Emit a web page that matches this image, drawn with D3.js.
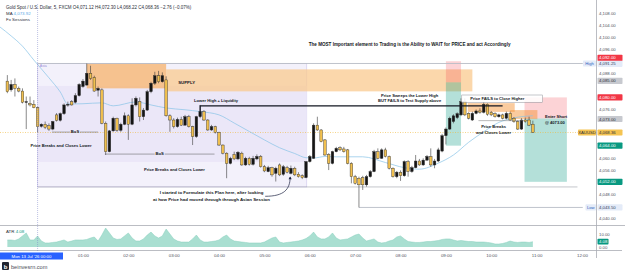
<!DOCTYPE html>
<html>
<head>
<meta charset="utf-8">
<script src="https://cdn.jsdelivr.net/npm/d3@7.9.0/dist/d3.min.js"></script>
<style>
  html, body { margin: 0; padding: 0; background: #fff; }
  svg { display: block; font-family: "Liberation Sans", Arial, sans-serif; }
</style>
</head>
<body>
<svg id="chart" width="625" height="273"></svg>
<script>
// 5 minute candles, index 0 is 00:00 (Mon 13 Jul)
const firstIndex = -8;

const opens = [
  4085.4, 4082.5, 4084.3, 4083.0, 4082.1, 4078.4, 4078.0, 4077.7, 4076.6, 4070.4,
  4071.1, 4070.6, 4069.5, 4074.2, 4072.4, 4074.6, 4077.5, 4078.6, 4078.4, 4080.6,
  4083.6, 4084.1, 4088.0, 4086.6, 4082.4, 4082.5, 4071.4, 4062.0, 4068.9, 4073.1,
  4069.1, 4071.1, 4073.9, 4071.1, 4077.5, 4078.6, 4073.6, 4075.8, 4081.9, 4084.7,
  4087.2, 4085.2, 4085.8, 4073.9, 4072.5, 4070.3, 4072.7, 4070.8, 4073.6, 4070.3,
  4067.0, 4073.6, 4075.3, 4072.5, 4069.2, 4070.3, 4068.4, 4064.2, 4061.5, 4058.1,
  4061.1, 4059.6, 4061.5, 4057.6, 4059.8, 4057.8, 4059.6, 4060.4, 4057.0, 4055.4,
  4056.7, 4054.8, 4057.6, 4054.5, 4056.7, 4054.8, 4056.5, 4054.5, 4054.0, 4053.4,
  4058.7, 4059.8, 4070.8, 4069.2, 4065.9, 4061.1, 4058.1, 4062.0, 4063.3, 4062.9,
  4062.6, 4058.1, 4053.7, 4053.2, 4053.4, 4051.0, 4053.7, 4055.4, 4062.0, 4059.8,
  4062.6, 4060.4, 4056.5, 4053.7, 4055.2, 4054.0, 4058.7, 4055.4, 4056.7, 4058.9,
  4057.6, 4059.2, 4060.4, 4057.6, 4058.9, 4062.2, 4067.3, 4069.5, 4072.0, 4073.3,
  4074.2, 4078.6, 4074.7, 4072.5, 4074.7, 4075.5, 4075.05, 4077.7, 4075.05, 4074.6,
  4073.6, 4074.2, 4073.1, 4074.7, 4073.1, 4072.0, 4069.5, 4072.5, 4072.5, 4071.12
];
const highs = [
  4087.4, 4085.8, 4086.3, 4083.6, 4083.0, 4080.3, 4080.3, 4079.1, 4076.9, 4071.4,
  4072.0, 4071.4, 4072.2, 4074.8, 4075.0, 4078.0, 4078.6, 4079.1, 4081.4, 4084.7,
  4086.1, 4091.25, 4090.5, 4087.2, 4083.6, 4083.0, 4072.0, 4069.2, 4073.6, 4073.3,
  4071.6, 4075.0, 4074.4, 4079.7, 4080.3, 4080.0, 4076.5, 4082.5, 4085.2, 4088.5,
  4088.8, 4088.3, 4087.0, 4074.4, 4073.1, 4073.3, 4073.6, 4074.2, 4074.2, 4070.6,
  4073.9, 4077.5, 4075.8, 4072.8, 4070.9, 4070.6, 4068.6, 4064.4, 4061.8, 4060.3,
  4062.0, 4062.2, 4062.0, 4060.3, 4060.3, 4060.6, 4061.1, 4060.9, 4057.6, 4057.3,
  4057.0, 4057.0, 4058.1, 4057.6, 4057.3, 4057.4, 4057.0, 4055.2, 4054.5, 4058.9,
  4060.9, 4071.4, 4073.6, 4069.5, 4066.2, 4061.5, 4062.3, 4063.6, 4063.8, 4063.6,
  4062.9, 4058.5, 4054.3, 4053.7, 4054.0, 4054.3, 4055.9, 4062.6, 4063.1, 4063.1,
  4063.3, 4060.7, 4056.8, 4055.6, 4055.8, 4059.1, 4059.2, 4057.3, 4060.9, 4059.6,
  4059.8, 4060.9, 4063.1, 4059.6, 4063.3, 4067.9, 4070.0, 4073.6, 4074.4, 4075.05,
  4079.7, 4079.7, 4075.05, 4075.3, 4076.0, 4076.4, 4078.4, 4078.0, 4075.5, 4075.05,
  4074.6, 4074.6, 4075.3, 4075.3, 4073.5, 4072.4, 4073.1, 4073.3, 4073.6, 4072.30
];
const lows = [
  4081.4, 4081.9, 4080.3, 4081.7, 4078.0, 4069.5, 4077.0, 4076.4, 4068.4, 4070.0,
  4069.5, 4068.9, 4069.1, 4072.0, 4072.0, 4074.2, 4076.9, 4077.3, 4078.0, 4080.3,
  4083.2, 4083.9, 4085.8, 4081.9, 4080.3, 4071.1, 4060.9, 4061.8, 4068.6, 4068.6,
  4068.6, 4070.8, 4065.9, 4070.8, 4077.0, 4072.0, 4072.5, 4075.5, 4081.4, 4084.1,
  4084.7, 4084.9, 4073.6, 4068.6, 4069.7, 4070.0, 4070.5, 4070.6, 4070.0, 4064.2,
  4066.6, 4073.1, 4072.2, 4068.9, 4068.9, 4068.0, 4063.9, 4061.1, 4053.2, 4057.8,
  4059.2, 4059.2, 4057.3, 4057.3, 4057.4, 4057.4, 4059.2, 4056.7, 4055.2, 4055.2,
  4053.7, 4052.1, 4053.9, 4054.0, 4054.8, 4054.5, 4053.9, 4053.4, 4052.9, 4053.2,
  4058.4, 4059.6, 4068.9, 4065.1, 4060.6, 4055.9, 4057.8, 4061.8, 4062.2, 4061.7,
  4057.8, 4051.5, 4051.1, 4043.5, 4049.3, 4050.4, 4053.4, 4055.2, 4059.5, 4059.6,
  4060.1, 4056.1, 4053.4, 4053.2, 4052.3, 4053.7, 4053.7, 4055.0, 4056.5, 4057.3,
  4057.3, 4058.9, 4057.0, 4056.5, 4058.5, 4061.8, 4064.4, 4069.2, 4071.4, 4072.8,
  4073.8, 4073.8, 4072.7, 4072.2, 4074.4, 4074.6, 4074.7, 4073.9, 4073.8, 4073.3,
  4073.3, 4072.7, 4072.7, 4072.2, 4071.6, 4069.2, 4069.2, 4071.6, 4070.5, 4068.22
];
const closes = [
  4081.9, 4084.3, 4083.0, 4082.1, 4078.4, 4078.6, 4077.5, 4076.6, 4070.3, 4071.1,
  4070.0, 4069.5, 4072.0, 4072.4, 4074.6, 4077.5, 4077.7, 4077.5, 4080.6, 4084.3,
  4085.4, 4088.0, 4086.3, 4082.1, 4083.0, 4071.4, 4062.0, 4068.9, 4073.1, 4069.1,
  4071.1, 4073.9, 4071.1, 4077.5, 4079.7, 4073.6, 4075.8, 4081.9, 4084.7, 4087.2,
  4085.2, 4087.2, 4073.9, 4072.5, 4070.3, 4072.7, 4070.8, 4073.6, 4070.3, 4067.0,
  4073.6, 4075.3, 4072.5, 4069.2, 4070.3, 4068.4, 4064.2, 4061.5, 4058.1, 4059.8,
  4059.6, 4061.8, 4057.6, 4059.8, 4057.8, 4059.8, 4060.4, 4057.0, 4055.6, 4056.7,
  4054.3, 4056.5, 4054.3, 4057.0, 4055.2, 4056.5, 4054.3, 4053.7, 4053.4, 4058.7,
  4060.4, 4070.8, 4069.2, 4065.3, 4060.9, 4058.1, 4062.0, 4063.1, 4062.6, 4062.0,
  4058.1, 4053.7, 4051.5, 4051.0, 4051.0, 4053.7, 4055.4, 4062.0, 4059.8, 4062.6,
  4060.4, 4056.5, 4053.7, 4055.2, 4054.0, 4058.7, 4055.4, 4056.7, 4058.9, 4057.6,
  4059.2, 4060.4, 4057.6, 4058.9, 4062.6, 4067.3, 4069.5, 4073.1, 4073.9, 4074.6,
  4078.6, 4074.2, 4073.1, 4074.7, 4075.5, 4075.05, 4077.7, 4074.4, 4074.2, 4073.6,
  4074.2, 4073.1, 4074.7, 4072.5, 4072.0, 4069.5, 4072.5, 4072.0, 4070.8, 4068.36
];
const atrValues = [
  5.4, 5.4, 5.0, 6.2, 8.5, 10.8, 5.4, 5.4, 8.5, 4.6,
  3.1, 3.1, 3.5, 3.8, 4.6, 5.4, 3.8, 4.6, 5.4, 5.4,
  5.4, 5.8, 6.9, 7.7, 4.6, 9.2, 14.6, 10.8, 6.9, 5.8,
  6.2, 8.5, 10.8, 6.9, 4.6, 4.6, 6.2, 9.2, 11.5, 8.5,
  6.9, 8.5, 13.8, 10.0, 6.2, 4.6, 3.8, 3.8, 3.8, 6.2,
  9.2, 5.4, 3.8, 3.8, 4.2, 4.6, 5.4, 7.7, 9.2, 6.2,
  4.6, 4.2, 3.8, 3.5, 3.1, 3.1, 3.1, 3.1, 3.8, 5.4,
  6.9, 7.7, 3.8, 3.1, 3.5, 3.8, 4.2, 4.6, 5.4, 6.5,
  8.5, 11.5, 7.7, 6.2, 6.2, 7.7, 10.8, 6.9, 5.4, 5.8,
  6.2, 7.7, 9.2, 10.0, 6.9, 4.6, 5.4, 6.2, 3.8, 3.1,
  3.5, 4.6, 5.4, 7.7, 8.5, 6.2, 4.2, 3.8, 3.5, 3.5,
  3.8, 4.2, 4.2, 4.6, 5.0, 5.8, 6.2, 6.2, 5.4, 4.6,
  5.0, 4.6, 4.2, 4.2, 3.8, 3.8, 3.8, 3.5, 3.1, 2.3,
  2.3, 2.7, 3.5, 4.6, 3.8, 3.5, 3.8, 3.8, 3.5, 4.08
];

// moving average read at a few candle indexes
const maIndex = [-10, -7, -4, -1, 3, 6, 8, 12, 17, 20, 26, 30, 34, 39, 43, 48, 52, 56, 60, 64,
  68, 71, 73, 76, 79, 86, 92, 97, 101, 106, 110, 114, 118, 122, 126, 131];
const maValues = [4103.4, 4100.4, 4097.0, 4092.4, 4086.5, 4081.8, 4077.8, 4077.9, 4078.2, 4077.2,
  4078.5, 4077.5, 4076.5, 4075.9, 4075.3, 4074.2, 4071.5, 4068.7, 4065.9, 4063.3,
  4061.4, 4060.0, 4059.9, 4060.4, 4060.3, 4060.3, 4058.4, 4056.7, 4056.2, 4058.2,
  4060.9, 4065.1, 4068.6, 4071.7, 4073.2, 4073.92];

// axis ticks that are not hidden behind a coloured label
const priceTicks = [4040, 4048, 4056, 4060, 4076, 4088, 4096, 4100, 4104, 4108];
const timeTickMinutes = [60, 120, 180, 240, 300, 360, 420, 480, 540, 600, 660, 720];
const timeTicks = ['01:00', '02:00', '03:00', '04:00', '05:00', '06:00', '07:00', '08:00',
  '09:00', '10:00', '11:00', '12:00'];
const atrTicks = [0, 10];

const sessionHigh = 4091.25;
const sessionLow = 4043.50;
const lastPrice = 4068.36;
const lastAtr = 4.08;
const lastMa = 4073.92;

// position tools: [start min, end min, stop, entry, target]
const positions = [
  [540, 560, 4092, 4085, 4064],
  [644, 700, 4080, 4073, 4052]
];

const svg = d3.select('#chart');
const axisX = 596;

const x = d3.scaleLinear().domain([0, 720]).range([37.6, 582]);
const y = d3.scaleLinear().domain([4040, 4108]).range([218, 13]);
const yAtr = d3.scaleLinear().domain([0, 10]).range([247, 234]);
const fmt = d3.format(',.2f');

const candles = opens.map((o, i) => ({
  t: (firstIndex + i) * 5, o, h: highs[i], l: lows[i], c: closes[i], atr: atrValues[i]
}));

svg.append('defs').append('clipPath').attr('id', 'pane')
  .append('rect').attr('x', 0).attr('y', 0).attr('width', axisX).attr('height', 225);

const pane = svg.append('g').attr('clip-path', 'url(#pane)');

// Asia session box
pane.append('rect')
  .attr('x', x(0)).attr('y', y(sessionHigh))
  .attr('width', x(356) - x(0)).attr('height', y(4050.3) - y(sessionHigh))
  .attr('fill', '#f3f1fb').attr('stroke', '#cdc4ea').attr('stroke-width', 0.6);
pane.append('rect')
  .attr('x', x(0)).attr('y', y(4083.8))
  .attr('width', x(356) - x(0)).attr('height', y(4058.6) - y(4083.8))
  .attr('fill', '#ebe7f8');

// supply zones
pane.append('rect')
  .attr('x', x(170)).attr('y', y(4089.3))
  .attr('width', x(575) - x(170)).attr('height', y(4082.0) - y(4089.3))
  .attr('fill', '#f9c98f').attr('opacity', 0.75);
pane.append('rect')
  .attr('x', x(65)).attr('y', y(sessionHigh))
  .attr('width', x(170) - x(65)).attr('height', y(4083.0) - y(sessionHigh))
  .attr('fill', '#f6b774').attr('opacity', 0.8);

// position tools
positions.forEach(([t0, t1, stop, entry, target]) => {
  pane.append('rect')
    .attr('x', x(t0)).attr('y', y(stop))
    .attr('width', x(t1) - x(t0)).attr('height', y(entry) - y(stop))
    .attr('fill', 'rgba(242,54,69,0.22)');
  pane.append('rect')
    .attr('x', x(t0)).attr('y', y(entry))
    .attr('width', x(t1) - x(t0)).attr('height', y(target) - y(entry))
    .attr('fill', 'rgba(8,153,129,0.3)');
});

// small orange boxes on the right
pane.append('rect')
  .attr('x', x(569)).attr('y', y(4078.1))
  .attr('width', x(631) - x(569)).attr('height', y(4075.2) - y(4078.1))
  .attr('fill', 'rgba(245,140,40,0.45)');
pane.append('rect')
  .attr('x', x(625)).attr('y', y(4075.8))
  .attr('width', x(661) - x(625)).attr('height', y(4072.8) - y(4075.8))
  .attr('fill', 'rgba(245,140,40,0.45)');

// horizontal levels
pane.append('line')
  .attr('x1', x(0)).attr('x2', x(721)).attr('y1', y(sessionHigh)).attr('y2', y(sessionHigh))
  .attr('stroke', '#b8bcc6').attr('stroke-width', 0.9);
pane.append('line')
  .attr('x1', x(0)).attr('x2', x(714)).attr('y1', y(4050.3)).attr('y2', y(4050.3))
  .attr('stroke', '#8a8e99').attr('stroke-width', 0.5);
pane.append('line')
  .attr('x1', x(425)).attr('x2', x(721)).attr('y1', y(sessionLow)).attr('y2', y(sessionLow))
  .attr('stroke', '#b8bcc6').attr('stroke-width', 0.9);

// current price dotted line
pane.append('line')
  .attr('x1', 0).attr('x2', axisX).attr('y1', y(lastPrice)).attr('y2', y(lastPrice))
  .attr('stroke', '#f0b93a').attr('stroke-width', 0.6).attr('stroke-dasharray', '1,1.5');

// moving average
const maLine = d3.line()
  .x((d) => x(d[0] * 5))
  .y((d) => y(d[1]))
  .curve(d3.curveMonotoneX);
pane.append('path')
  .attr('d', maLine(maIndex.map((k, i) => [k, maValues[i]])))
  .attr('fill', 'none').attr('stroke', '#86c3e6').attr('stroke-width', 0.7);

// candles
const bodyW = 2.6;
const cg = pane.append('g');
cg.selectAll('line.wick').data(candles).join('line')
  .attr('class', 'wick')
  .attr('x1', (d) => x(d.t)).attr('x2', (d) => x(d.t))
  .attr('y1', (d) => y(d.h)).attr('y2', (d) => y(d.l))
  .attr('stroke', '#3a3a3a').attr('stroke-width', 0.6);
cg.selectAll('rect.body').data(candles).join('rect')
  .attr('class', 'body')
  .attr('x', (d) => x(d.t) - bodyW / 2)
  .attr('y', (d) => y(Math.max(d.o, d.c)))
  .attr('width', bodyW)
  .attr('height', (d) => Math.max(0.8, Math.abs(y(d.o) - y(d.c))))
  .attr('fill', (d) => (d.c >= d.o ? '#151515' : '#f1c04f'))
  .attr('stroke', '#2a2a2a').attr('stroke-width', 0.4);

// drawings
const ink = '#131722';
pane.append('path')
  .attr('d', `M${x(215)},${y(4075.2)}V${y(4077.2)}H${x(615)}`)
  .attr('fill', 'none').attr('stroke', ink).attr('stroke-width', 1.2);

// BoS lines, broken for the label
[[19, 80, 4068.5], [89, 234, 4061.2]].forEach(([t0, t1, p]) => {
  const mid = (x(t0) + x(t1)) / 2;
  pane.append('line').attr('x1', x(t0)).attr('x2', mid - 5).attr('y1', y(p)).attr('y2', y(p))
    .attr('stroke', '#555').attr('stroke-width', 0.5);
  pane.append('line').attr('x1', mid + 5).attr('x2', x(t1)).attr('y1', y(p)).attr('y2', y(p))
    .attr('stroke', '#555').attr('stroke-width', 0.5);
  pane.append('text').attr('x', mid).attr('y', y(p) + 1.4).attr('text-anchor', 'middle')
    .attr('font-size', 4.2).attr('font-weight', 'bold').attr('fill', ink).text('BoS');
});

// box for "Price FAILS"
pane.append('rect')
  .attr('x', x(561)).attr('y', y(4080.8))
  .attr('width', x(668) - x(561)).attr('height', y(4078.4) - y(4080.8))
  .attr('fill', 'rgba(255,255,255,0.85)').attr('stroke', '#8d8f96').attr('stroke-width', 0.5);
pane.append('line')
  .attr('x1', x(583)).attr('x2', x(643)).attr('y1', y(4072.3)).attr('y2', y(4072.3))
  .attr('stroke', '#777').attr('stroke-width', 0.5);

// arrow from the note to the candle
pane.append('path')
  .attr('d', `M${x(301)},${y(4047.2)}C${x(326)},${y(4047.2)} ${x(334)},${y(4049.5)} ${x(334)},${y(4053.6)}`)
  .attr('fill', 'none').attr('stroke', '#1d2342').attr('stroke-width', 0.7);
pane.append('path')
  .attr('d', `M${x(334)},${y(4053.8)}l-1.6,2.8h3.2z`)
  .attr('fill', '#1d2342');

function note(t, p, lines, anchor = 'middle', size = 4.1) {
  const g = pane.append('text')
    .attr('x', x(t)).attr('y', y(p))
    .attr('text-anchor', anchor)
    .attr('font-size', size).attr('font-weight', 'bold').attr('fill', ink);
  lines.forEach((s, i) => {
    g.append('tspan').attr('x', x(t)).attr('dy', i === 0 ? 0 : size * 1.45).text(s);
  });
}

note(492, 4097.0, ['The MOST Important element to Trading is the Ability to WAIT for PRICE and act Accordingly'], 'middle', 4.6);
note(186, 4084.6, ['SUPPLY'], 'start', 4.3);
note(207, 4078.6, ['Lower High + Liquidity'], 'start');
note(492, 4080.3, ['Price Sweeps the Lower High', 'BUT FAILS to Test Supply above']);
note(608, 4079.2, ['Price FAILS to Close Higher']);
note(603, 4069.8, ['Price Breaks', 'and Closes Lower']);
note(671, 4073.2, ['Enter Short', '@ 4073.00'], 'start');
note(31, 4063.5, ['Price Breaks and Closes Lower']);
note(181, 4055.6, ['Price Breaks and Closes Lower']);
note(230, 4047.8, ['I started to Formulate this Plan here, after looking',
  'at how Price had moved through through Asian Session'], 'middle', 4.4);

// Asia label
pane.append('text').attr('x', x(3)).attr('y', y(sessionHigh) + 3.6)
  .attr('font-size', 3.6).attr('fill', '#9c8fd6').text('Asia');

// ATR pane
const atrArea = d3.area()
  .x((d) => x(d.t)).y0(yAtr(0)).y1((d) => yAtr(d.atr))
  .curve(d3.curveLinear);
svg.append('path').attr('d', atrArea(candles)).attr('fill', '#a9dfd1');
svg.append('path')
  .attr('d', d3.line().x((d) => x(d.t)).y((d) => yAtr(d.atr))(candles))
  .attr('fill', 'none').attr('stroke', '#86cfbd').attr('stroke-width', 0.5);

// frame lines
svg.append('line').attr('x1', 0).attr('x2', 625).attr('y1', 225.5).attr('y2', 225.5)
  .attr('stroke', '#a9acb4').attr('stroke-width', 0.8);
svg.append('line').attr('x1', 0).attr('x2', 622).attr('y1', 250.5).attr('y2', 250.5)
  .attr('stroke', '#a9acb4').attr('stroke-width', 0.8);
svg.append('line').attr('x1', axisX + 0.5).attr('x2', axisX + 0.5).attr('y1', 0).attr('y2', 258)
  .attr('stroke', '#a9acb4').attr('stroke-width', 0.8);

// crosshair
svg.append('line').attr('x1', x(0)).attr('x2', x(0)).attr('y1', 4).attr('y2', 251)
  .attr('stroke', '#7d86c8').attr('stroke-width', 0.5).attr('stroke-dasharray', '1,1');

// price axis
const axisG = svg.append('g').attr('transform', `translate(${axisX + 3},0)`)
  .call(d3.axisRight(y).tickValues(priceTicks).tickSize(0).tickFormat(fmt));
axisG.select('.domain').remove();
axisG.selectAll('text').attr('x', 0).attr('font-size', 4.3).attr('fill', '#50535e')
  .attr('font-family', '"Liberation Sans", Arial, sans-serif');

function axisLabel(p, bg, fg, cy) {
  svg.append('rect').attr('x', axisX + 1.5).attr('y', cy - 3.1).attr('width', 25).attr('height', 6.2)
    .attr('rx', 0.8).attr('fill', bg);
  svg.append('text').attr('x', axisX + 3).attr('y', cy + 1.5).attr('font-size', 4.3)
    .attr('fill', fg).text(fmt(p));
}
axisLabel(4092, '#f23645', '#fff', y(4092) - 3.4);
axisLabel(sessionHigh, '#e4ebf8', '#2f3d5c', y(sessionHigh) + 0.3);
axisLabel(4085, '#c7c9cf', '#2a2e39', y(4085) - 1.5);
axisLabel(4080, '#f23645', '#fff', y(4080));
axisLabel(4073, '#c7c9cf', '#2a2e39', y(4073) + 0.5);
axisLabel(lastPrice, '#f5c451', '#2a2e39', y(lastPrice));
axisLabel(4064, '#089981', '#fff', y(4064));
axisLabel(4052, '#089981', '#fff', y(4052));
axisLabel(sessionLow, '#e4ebf8', '#2f3d5c', y(sessionLow));

function tag(text, xx, p, bg, fg) {
  const w = text.length * 2.5 + 3;
  svg.append('rect').attr('x', xx - w).attr('y', y(p) - 3.1).attr('width', w).attr('height', 6.2)
    .attr('rx', 0.8).attr('fill', bg);
  svg.append('text').attr('x', xx - w / 2).attr('y', y(p) + 1.5).attr('text-anchor', 'middle')
    .attr('font-size', 4.2).attr('fill', fg).text(text);
}
tag('High', axisX, sessionHigh, '#e4ebf8', '#2f5fc0');
tag('Low', axisX, sessionLow, '#e4ebf8', '#2f5fc0');
tag('XAUUSD', axisX, lastPrice, '#f5c451', '#2a2e39');

// ATR axis
const atrAxis = svg.append('g').attr('transform', `translate(${axisX + 3},0)`)
  .call(d3.axisRight(yAtr).tickValues(atrTicks).tickSize(0).tickFormat(d3.format('.2f')));
atrAxis.select('.domain').remove();
atrAxis.selectAll('text').attr('x', 0).attr('font-size', 4.3).attr('fill', '#50535e')
  .attr('font-family', '"Liberation Sans", Arial, sans-serif');
svg.append('rect').attr('x', axisX + 1.5).attr('y', yAtr(lastAtr) - 2.9).attr('width', 11).attr('height', 5.8)
  .attr('rx', 0.8).attr('fill', '#089981');
svg.append('text').attr('x', axisX + 3).attr('y', yAtr(lastAtr) + 1.5).attr('font-size', 4.3)
  .attr('fill', '#fff').text(d3.format('.2f')(lastAtr));

// time axis
const timeAxis = svg.append('g').attr('transform', 'translate(0,251)')
  .call(d3.axisBottom(x).tickValues(timeTickMinutes).tickSize(0).tickFormat((d, i) => timeTicks[i]));
timeAxis.select('.domain').remove();
timeAxis.selectAll('text').attr('y', 3).attr('font-size', 4.4).attr('fill', '#50535e')
  .attr('font-family', '"Liberation Sans", Arial, sans-serif');

svg.append('rect').attr('x', 0).attr('y', 252.5).attr('width', 63).attr('height', 7)
  .attr('fill', '#2962ff');
svg.append('text').attr('x', 31.5).attr('y', 257.7).attr('text-anchor', 'middle')
  .attr('font-size', 4.3).attr('fill', '#fff').text("Mon 13 Jul '26   00:00");

// legend
const head = svg.append('text').attr('x', 6).attr('y', 9).attr('font-size', 4.5).attr('fill', '#2a2e39');
head.append('tspan').text('Gold Spot / U.S. Dollar, 5, FXCM  ');
head.append('tspan').text('O4,071.12  H4,072.30  L4,068.22  C4,068.36  \u22122.76 (\u22120.07%)');
const maText = svg.append('text').attr('x', 6).attr('y', 15).attr('font-size', 4.4).attr('fill', '#2a2e39');
maText.append('tspan').text('MA ');
maText.append('tspan').attr('fill', '#5aa9e6').text(fmt(lastMa));
svg.append('text').attr('x', 6).attr('y', 21).attr('font-size', 4.4).attr('fill', '#2a2e39').text('Fx Sessions');

const atrText = svg.append('text').attr('x', 6).attr('y', 232.5).attr('font-size', 4.4).attr('fill', '#2a2e39');
atrText.append('tspan').text('ATR ');
atrText.append('tspan').attr('fill', '#089981').text(d3.format('.2f')(lastAtr));

// watermark
svg.append('rect').attr('x', 2).attr('y', 262).attr('width', 7).attr('height', 8).attr('rx', 1).attr('fill', '#1f2430');
svg.append('text').attr('x', 5.5).attr('y', 268.5).attr('text-anchor', 'middle').attr('font-size', 6)
  .attr('font-weight', 'bold').attr('fill', '#fff').text('b');
svg.append('text').attr('x', 11).attr('y', 268.5).attr('font-size', 5.6).attr('fill', '#4a4e5a').text('beinvesrn.com');
</script>
</body>
</html>
